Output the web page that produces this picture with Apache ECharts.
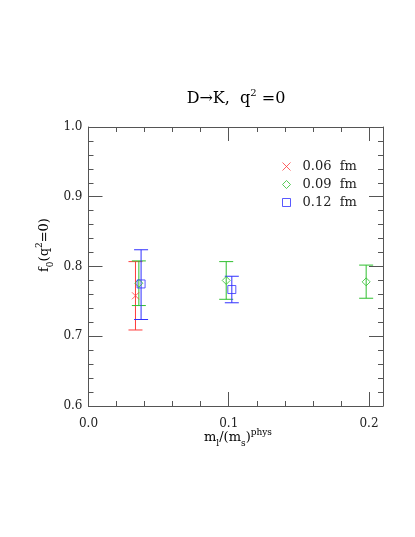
<!DOCTYPE html>
<html><head><meta charset="utf-8">
<script src="https://cdn.jsdelivr.net/npm/echarts@6/dist/echarts.min.js"></script>
<style>html,body{margin:0;padding:0;background:#fff}#c{width:415px;height:537px}</style>
</head><body><div id="c"></div>
<script>
// data: [x, value, lower, upper]
const seriesNames = ['0.06  fm', '0.09  fm', '0.12  fm'];
const pts006 = [[0.0335, 0.758, 0.709, 0.807]];
const pts009 = [[0.0359, 0.776, 0.744, 0.808], [0.0982, 0.780, 0.753, 0.807], [0.198, 0.778, 0.7545, 0.802]];
const pts012 = [[0.0375, 0.775, 0.724, 0.824], [0.1022, 0.767, 0.748, 0.786]];
const xMajorTicks = [0, 0.1, 0.2];
const yMajorTicks = [0.6, 0.7, 0.8, 0.9, 1.0];

const colors = ['#ff3b3b', '#2fbf2f', '#3030ff'];
const symbols = ['path://M0,0L10,10M10,0L0,10', 'diamond', 'rect'];
const sets = [pts006, pts009, pts012];
const serif = 'DejaVu Serif';
const axisCol = '#555';

function errBar(color) {
  return function (params, api) {
    const x = api.value(0), lo = api.value(2), hi = api.value(3);
    const pLo = api.coord([x, lo]), pHi = api.coord([x, hi]);
    const w = 7;
    const st = { stroke: color, lineWidth: 1, fill: null };
    return { type: 'group', children: [
      { type: 'line', shape: { x1: pLo[0], y1: pLo[1], x2: pHi[0], y2: pHi[1] }, style: st },
      { type: 'line', shape: { x1: pLo[0] - w, y1: pLo[1], x2: pLo[0] + w, y2: pLo[1] }, style: st },
      { type: 'line', shape: { x1: pHi[0] - w, y1: pHi[1], x2: pHi[0] + w, y2: pHi[1] }, style: st }
    ]};
  };
}

const series = [];
sets.forEach((d, i) => {
  series.push({ type: 'custom', name: seriesNames[i] + '_err', renderItem: errBar(colors[i]), data: d, encode: { x: 0, y: [1, 2, 3] }, z: 2, silent: true });
});
sets.forEach((d, i) => {
  series.push({ type: 'scatter', name: seriesNames[i], data: d.map(p => [p[0], p[1]]), symbol: symbols[i],
    symbolSize: i === 0 ? 7 : 8,
    itemStyle: { color: 'rgba(0,0,0,0)', borderColor: colors[i], borderWidth: 1 }, z: 3 });
});

function xAx(pos, major) {
  return { type: 'value', position: pos, min: 0, max: 0.21, interval: major ? 0.1 : 0.02,
    axisLine: { show: major, onZero: false, lineStyle: { color: axisCol, width: 1 } },
    axisTick: { show: true, inside: true, length: major ? 14 : 5, lineStyle: { color: axisCol } },
    axisLabel: { show: major && pos === 'bottom', margin: 12, color: '#222', fontFamily: serif, fontSize: 12,
      formatter: v => (xMajorTicks.some(t => Math.abs(t - v) < 1e-9) ? v.toFixed(1) : '') },
    splitLine: { show: false } };
}
function yAx(pos, major) {
  return { type: 'value', position: pos, min: 0.6, max: 1.0, interval: major ? 0.1 : 0.02,
    axisLine: { show: major, onZero: false, lineStyle: { color: axisCol, width: 1 } },
    axisTick: { show: true, inside: true, length: major ? 14 : 5, lineStyle: { color: axisCol } },
    axisLabel: { show: major && pos === 'left', margin: 6, color: '#222', fontFamily: serif, fontSize: 12,
      formatter: v => (yMajorTicks.some(t => Math.abs(t - v) < 1e-9) ? v.toFixed(1) : '') },
    splitLine: { show: false } };
}

const richBase = {
  a: { fontFamily: serif, fontSize: 13, color: '#222', lineHeight: 20, verticalAlign: 'middle' },
  sub: { fontFamily: serif, fontSize: 9, color: '#222', lineHeight: 20, verticalAlign: 'bottom' },
  sup: { fontFamily: serif, fontSize: 9, color: '#222', lineHeight: 20, verticalAlign: 'top' }
};
const richTitle = {
  a: { fontFamily: serif, fontSize: 16, color: '#222', lineHeight: 22, verticalAlign: 'middle' },
  sup: { fontFamily: serif, fontSize: 10, color: '#222', lineHeight: 22, verticalAlign: 'top' }
};

const chart = echarts.init(document.getElementById('c'), null, { renderer: 'canvas' });
chart.setOption({
  animation: false,
  backgroundColor: '#fff',
  grid: { left: 88.5, right: 32, top: 127, bottom: 131, containLabel: false },
  xAxis: [xAx('bottom', true), xAx('bottom', false), xAx('top', true), xAx('top', false)],
  yAxis: [yAx('left', true), yAx('left', false), yAx('right', true), yAx('right', false)],
  legend: { orient: 'vertical', left: 277, top: 155, itemWidth: 8, itemHeight: 8, itemGap: 5,
    itemStyle: { borderWidth: 1 },
    data: seriesNames, textStyle: { fontFamily: serif, fontSize: 13, color: '#222', padding: [0, 0, 0, 7] } },
  graphic: [
    { type: 'text', x: 236, y: 99, style: { text: '{a|D→K,  q}{sup|2}{a| =0}', rich: richTitle, align: 'center', verticalAlign: 'middle' } },
    { type: 'text', x: 45, y: 245, rotation: Math.PI / 2, style: { text: '{a|f}{sub|0}{a|(q}{sup|2}{a|=0)}', rich: richBase, align: 'center', verticalAlign: 'middle' } },
    { type: 'text', x: 238, y: 438, style: { text: '{a|m}{sub|l}{a|/(m}{sub|s}{a|)}{sup|phys}', rich: richBase, align: 'center', verticalAlign: 'middle' } }
  ],
  series: series
});
</script></body></html>
